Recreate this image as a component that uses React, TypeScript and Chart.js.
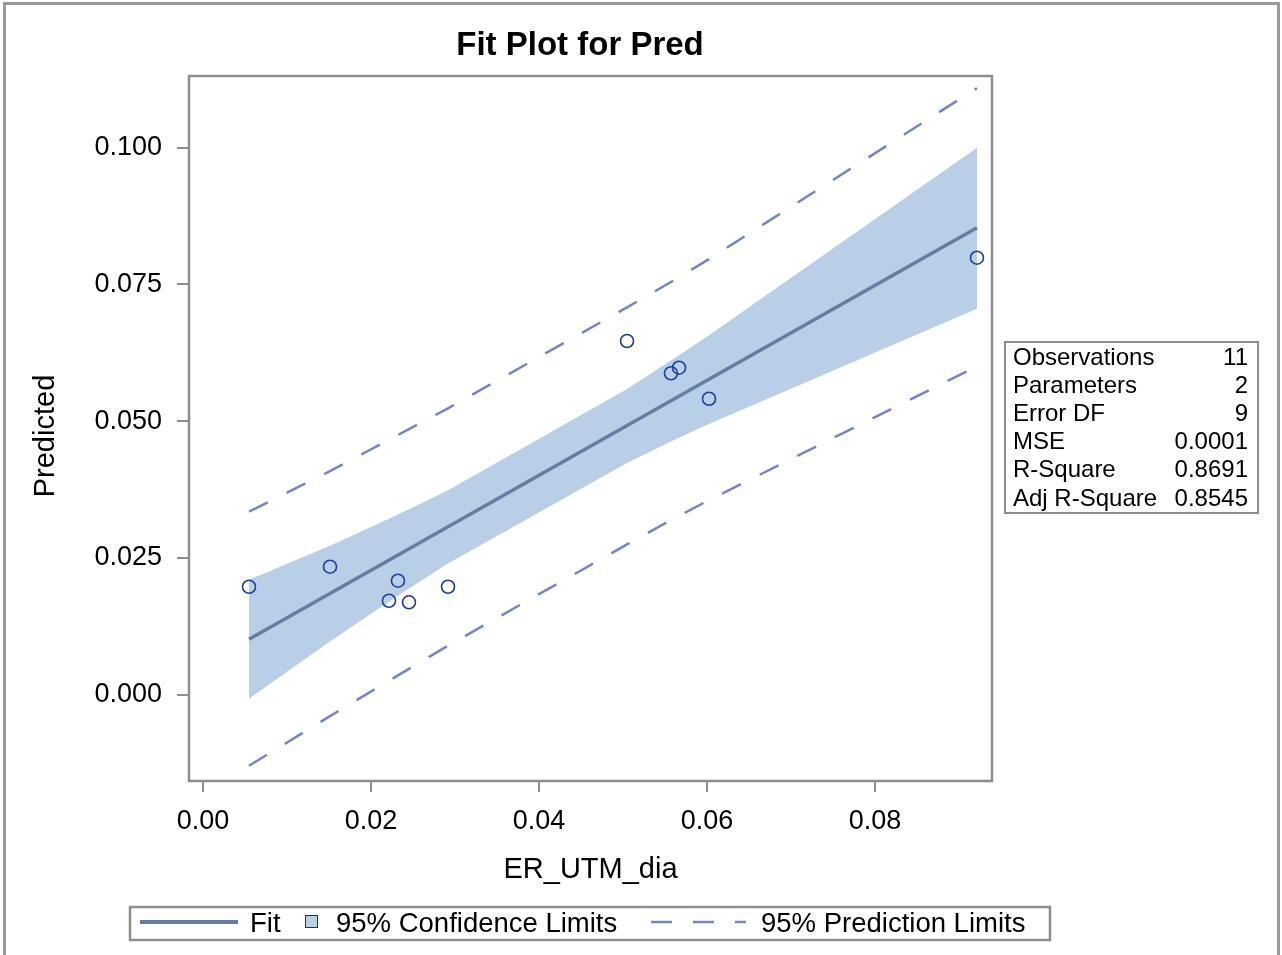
import React, { useEffect, useRef } from 'react';
import { Chart, registerables } from 'chart.js';
Chart.register(...registerables);

// ---- data ----
const obsX = [0.00548, 0.01512, 0.02214, 0.02321, 0.02452, 0.02917, 0.05048, 0.05571, 0.05667, 0.06024, 0.09214];
const obsY = [0.01974, 0.0234, 0.01718, 0.02084, 0.01689, 0.01974, 0.06466, 0.05876, 0.05978, 0.05411, 0.07989];
const fitX = [0.00548, 0.09214];
const fitY = [0.01013, 0.08537];
const clUpper = [0.02101, 0.02722, 0.03216, 0.03293, 0.03388, 0.03739, 0.0559, 0.0611, 0.06207, 0.0657, 0.09998];
const clLower = [-0.00075, 0.00974, 0.01698, 0.01808, 0.0194, 0.02397, 0.04238, 0.04629, 0.04697, 0.04951, 0.07055];
const plUpper = [0.03346, 0.04088, 0.0466, 0.04748, 0.04854, 0.05236, 0.0708, 0.07545, 0.07633, 0.07963, 0.1109];
const plLower = [-0.013, -0.00391, 0.00254, 0.00353, 0.00473, 0.00896, 0.02748, 0.03194, 0.0327, 0.03558, 0.06004];
const xTicks = [0, 0.02, 0.04, 0.06, 0.08];
const yTicks = [0, 0.025, 0.05, 0.075, 0.1];
const statLabels = ['Observations', 'Parameters', 'Error DF', 'MSE', 'R-Square', 'Adj R-Square'];
const statValues = ['11', '2', '9', '0.0001', '0.8691', '0.8545'];
const legendLabels = ['Fit', '95% Confidence Limits', '95% Prediction Limits'];
const titleText = 'Fit Plot for Pred';
const xTitle = 'ER_UTM_dia';
const yTitle = 'Predicted';

// ---- styles ----
const FONT = '"Liberation Sans", Arial, sans-serif';
const GRAY = '#8e8e8e';
const FIT_COLOR = '#687BA3';
const BAND_COLOR = '#B9CFE7';
const PRED_COLOR = '#7685C6';
const PT_COLOR = '#1C3E9E';

const pts = (xs: number[], ys: number[]) => xs.map((x, i) => ({ x, y: ys[i] }));

const overlay = {
  id: 'overlay',
  afterDraw(chart: any) {
    const { ctx, chartArea: a } = chart;
    ctx.save();
    // plot frame
    ctx.strokeStyle = GRAY;
    ctx.lineWidth = 2.5;
    ctx.strokeRect(a.left, a.top, a.right - a.left, a.bottom - a.top);

    // title
    ctx.fillStyle = '#000';
    ctx.font = `bold 33px ${FONT}`;
    ctx.textAlign = 'center';
    ctx.textBaseline = 'middle';
    ctx.fillText(titleText, 580, 46);

    // y-axis title
    ctx.save();
    ctx.translate(46, 436);
    ctx.rotate(-Math.PI / 2);
    ctx.font = `29px ${FONT}`;
    ctx.textAlign = 'center';
    ctx.fillText(yTitle, 0, 0);
    ctx.restore();

    // stats box
    ctx.strokeStyle = GRAY;
    ctx.lineWidth = 2;
    ctx.strokeRect(1005, 342, 253, 171);
    ctx.font = `24px ${FONT}`;
    ctx.fillStyle = '#000';
    statLabels.forEach((lab, i) => {
      const y = 358 + i * 28.2;
      ctx.textAlign = 'left';
      ctx.fillText(lab, 1013, y);
      ctx.textAlign = 'right';
      ctx.fillText(statValues[i], 1248, y);
    });

    // legend
    ctx.lineWidth = 2.5;
    ctx.strokeStyle = GRAY;
    ctx.strokeRect(130, 907, 920, 33);
    const ly = 924;
    ctx.strokeStyle = FIT_COLOR;
    ctx.lineWidth = 4;
    ctx.beginPath();
    ctx.moveTo(140, ly - 2);
    ctx.lineTo(238, ly - 2);
    ctx.stroke();
    ctx.fillStyle = BAND_COLOR;
    ctx.fillRect(305, 915, 13, 13);
    ctx.strokeStyle = '#333';
    ctx.lineWidth = 1;
    ctx.strokeRect(305.5, 915.5, 12, 12);
    ctx.strokeStyle = PRED_COLOR;
    ctx.lineWidth = 2.5;
    ctx.setLineDash([21, 21]);
    ctx.beginPath();
    ctx.moveTo(651, ly - 2);
    ctx.lineTo(746, ly - 2);
    ctx.stroke();
    ctx.setLineDash([]);
    ctx.fillStyle = '#000';
    ctx.font = `27.5px ${FONT}`;
    ctx.textAlign = 'left';
    ctx.fillText(legendLabels[0], 250, ly);
    ctx.fillText(legendLabels[1], 336, ly);
    ctx.fillText(legendLabels[2], 761, ly);
    ctx.restore();
  },
};

export default function App() {
  const ref = useRef<HTMLCanvasElement>(null);
  useEffect(() => {
    document.body.style.margin = '0';
    document.documentElement.style.overflow = 'hidden';
    const chart = new Chart(ref.current as HTMLCanvasElement, {
      type: 'line',
      data: {
        datasets: [
          {
            label: 'Observed',
            data: pts(obsX, obsY),
            showLine: false,
            pointStyle: 'circle',
            pointRadius: 6.5,
            pointBorderWidth: 1.6,
            pointBorderColor: PT_COLOR,
            pointBackgroundColor: 'rgba(0,0,0,0)',
            order: 0,
          },
          {
            label: legendLabels[0],
            data: pts(fitX, fitY),
            borderColor: FIT_COLOR,
            borderWidth: 3.5,
            pointRadius: 0,
            fill: false,
            order: 1,
          },
          {
            label: 'Upper PL',
            data: pts(obsX, plUpper),
            borderColor: PRED_COLOR,
            borderWidth: 2.5,
            borderDash: [21, 21],
            pointRadius: 0,
            fill: false,
            order: 2,
          },
          {
            label: 'Lower PL',
            data: pts(obsX, plLower),
            borderColor: PRED_COLOR,
            borderWidth: 2.5,
            borderDash: [21, 21],
            pointRadius: 0,
            fill: false,
            order: 2,
          },
          {
            label: 'Upper CL',
            data: pts(obsX, clUpper),
            borderColor: BAND_COLOR,
            borderWidth: 0,
            backgroundColor: BAND_COLOR,
            pointRadius: 0,
            fill: '+1',
            order: 3,
          },
          {
            label: 'Lower CL',
            data: pts(obsX, clLower),
            borderColor: BAND_COLOR,
            borderWidth: 0,
            pointRadius: 0,
            fill: false,
            order: 4,
          },
        ],
      },
      options: {
        responsive: false,
        devicePixelRatio: 1,
        animation: false,
        layout: { padding: { left: 0, top: 76, right: 290, bottom: 54 } },
        plugins: { legend: { display: false }, tooltip: { enabled: false }, title: { display: false } },
        elements: { line: { tension: 0 } },
        scales: {
          x: {
            type: 'linear',
            min: -0.001667,
            max: 0.09393,
            afterBuildTicks: (s: any) => {
              s.ticks = xTicks.map((v) => ({ value: v }));
            },
            afterFit: (s: any) => {
              s.height = 120;
            },
            ticks: {
              callback: (v: any) => Number(v).toFixed(2),
              color: '#000',
              font: { family: FONT, size: 27 },
              padding: 13,
              maxRotation: 0,
            },
            grid: { drawOnChartArea: false, drawTicks: true, tickLength: 11, color: GRAY, lineWidth: 2 },
            border: { display: false },
            title: {
              display: true,
              text: xTitle,
              color: '#000',
              font: { family: FONT, size: 29 },
              padding: { top: 0, bottom: 13.6 },
            },
          },
          y: {
            type: 'linear',
            min: -0.01578,
            max: 0.11311,
            afterBuildTicks: (s: any) => {
              s.ticks = yTicks.map((v) => ({ value: v }));
            },
            afterFit: (s: any) => {
              s.width = 189;
            },
            ticks: {
              callback: (v: any) => Number(v).toFixed(3),
              color: '#000',
              font: { family: FONT, size: 27 },
              padding: 15,
            },
            grid: { drawOnChartArea: false, drawTicks: true, tickLength: 12, color: GRAY, lineWidth: 2 },
            border: { display: false },
            title: { display: false, text: yTitle },
          },
        },
      } as any,
      plugins: [overlay],
    });
    return () => chart.destroy();
  }, []);

  return (
    <div style={{ position: 'relative', width: 1282, height: 955, overflow: 'hidden', background: '#fff' }}>
      <canvas
        ref={ref}
        width={1282}
        height={955}
        style={{ position: 'absolute', left: 0, top: 0, width: 1282, height: 955 }}
      />
      <div
        style={{
          position: 'absolute',
          left: 3,
          top: 2,
          width: 1277,
          height: 1000,
          border: '3px solid #9a9a9a',
          boxSizing: 'border-box',
          pointerEvents: 'none',
        }}
      />
    </div>
  );
}
